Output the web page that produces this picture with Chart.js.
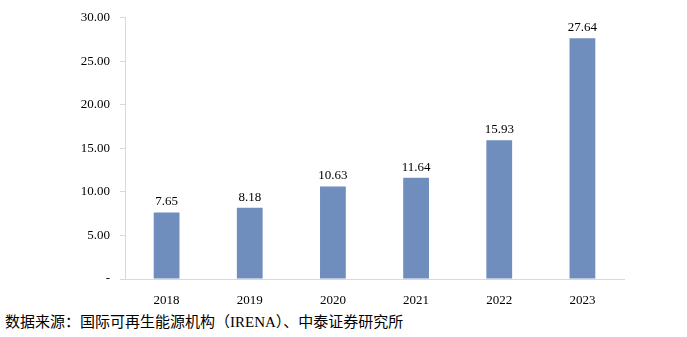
<!DOCTYPE html>
<html>
<head>
<meta charset="utf-8">
<script src="https://cdn.jsdelivr.net/npm/chart.js@4/dist/chart.umd.min.js"></script>
<style>
  html, body { margin: 0; padding: 0; background: #fff; }
  #wrap { position: relative; width: 687px; height: 337px; }
  #chart { position: absolute; left: 0; top: 0; }
  .source {
    position: absolute; left: 5px; top: 310px;
    font-family: "Liberation Serif", "Noto Sans CJK SC", serif;
    font-size: 15px; color: #000; white-space: nowrap;
  }
</style>
</head>
<body>
<div id="wrap">
  <canvas id="chart" width="687" height="305"></canvas>
  <div class="source">数据来源：国际可再生能源机构（IRENA）、中泰证券研究所</div>
</div>
<script>
// Yearly values
const years = ['2018', '2019', '2020', '2021', '2022', '2023'];
const values = [7.65, 8.18, 10.63, 11.64, 15.93, 27.64];
const yTicks = [0, 5, 10, 15, 20, 25, 30];

const serif = '"Liberation Serif", "Times New Roman", serif';

// Value labels above each bar
const barLabels = {
    id: 'barLabels',
    afterDatasetsDraw(chart) {
        const ctx = chart.ctx;
        const meta = chart.getDatasetMeta(0);
        ctx.save();
        ctx.font = '13px ' + serif;
        ctx.fillStyle = '#000';
        ctx.textAlign = 'center';
        ctx.textBaseline = 'bottom';
        meta.data.forEach(function(bar, i) {
            ctx.fillText(values[i].toFixed(2), bar.x, bar.y - 4);
        });
        ctx.restore();
    }
};

const ctx = document.getElementById('chart').getContext('2d');
const chart = new Chart(ctx, {
    type: 'bar',
    data: {
        labels: years,
        datasets: [{
            data: values,
            backgroundColor: '#6f8ebd',
            barPercentage: 0.31,
            categoryPercentage: 1
        }]
    },
    options: {
        responsive: false,
        animation: false,
        layout: { padding: { left: 0, right: 63, top: 15, bottom: 0 } },
        scales: {
            x: {
                grid: { display: false },
                border: { display: true, color: '#d9d9d9', width: 1 },
                ticks: { color: '#000', font: { family: serif, size: 13 }, padding: 6 },
                afterFit: function(scale) { scale.height = 26; }
            },
            y: {
                min: 0,
                max: 30,
                afterBuildTicks: function(scale) {
                    scale.ticks = yTicks.map(v => ({ value: v }));
                },
                grid: {
                    drawOnChartArea: false,
                    color: '#d9d9d9',
                    tickLength: 5
                },
                border: { display: true, color: '#d9d9d9', width: 1 },
                ticks: {
                    color: '#000',
                    font: { family: serif, size: 13 },
                    padding: 10,
                    callback: function(value) {
                        return value === 0 ? '-' : value.toFixed(2);
                    }
                },
                afterFit: function(scale) { scale.width = 125; }
            }
        },
        plugins: {
            legend: { display: false },
            tooltip: { enabled: false }
        }
    },
    plugins: [barLabels]
});
</script>
</body>
</html>
